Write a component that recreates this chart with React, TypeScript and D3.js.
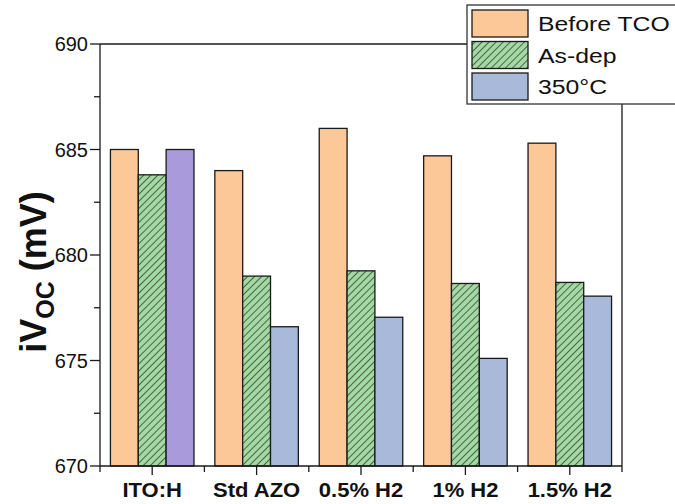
import React from "react";
import * as d3 from "d3";

const categories = ["ITO:H", "Std AZO", "0.5% H2", "1% H2", "1.5% H2"];
const seriesNames = ["Before TCO", "As-dep", "350°C"];
const beforeTCO = [685.0, 684.0, 686.0, 684.7, 685.3];
const asDep = [683.8, 679.0, 679.25, 678.65, 678.7];
const annealed = [685.0, 676.6, 677.05, 675.1, 678.05];
const yTicks = [670, 675, 680, 685, 690];
const yMinorTicks = [672.5, 677.5, 682.5, 687.5];

const W = 675;
const H = 504;
const M = { left: 100, right: 622, top: 44, bottom: 466 };

const fills = ["#fdc897", "#a3d9a3", "#a9b9d9"];
const purple = "#a99bdb";
const ink = "#1a1a1a";

export default function App() {
  const x = d3.scaleBand<string>().domain(categories).range([M.left, M.right]).paddingInner(0.2).paddingOuter(0.1);
  const x1 = d3.scaleBand<number>().domain([0, 1, 2]).range([0, x.bandwidth()]);
  const y = d3.scaleLinear().domain([670, 690]).range([M.bottom, M.top]);
  const series = [beforeTCO, asDep, annealed];
  const band = (M.right - M.left) / categories.length;
  const boundaries = d3.range(categories.length + 1).map((i) => M.left + i * band);

  const fillFor = (s: number, c: number) => {
    if (s === 1) return "url(#hatch)";
    if (s === 2 && c === 0) return purple;
    return fills[s];
  };

  return (
    <svg width={W} height={H} style={{ position: "absolute", left: 0, top: 0, background: "#fff" }} fontFamily="Liberation Sans, Arial, sans-serif">
      <defs>
        <pattern id="hatch" patternUnits="userSpaceOnUse" width="5" height="5" patternTransform="rotate(45)">
          <rect width="5" height="5" fill={fills[1]} />
          <line x1="0" y1="0" x2="0" y2="5" stroke="#111" strokeWidth="1.2" />
        </pattern>
      </defs>
      <rect x={0} y={0} width={W} height={H} fill="#fff" />
      {categories.map((c, ci) =>
        series.map((vals, si) => {
          const bx = (x(c) as number) + (x1(si) as number);
          return (
            <rect
              key={c + si}
              x={bx}
              y={y(vals[ci])}
              width={x1.bandwidth()}
              height={y(670) - y(vals[ci])}
              fill={fillFor(si, ci)}
              stroke={ink}
              strokeWidth={1.3}
            />
          );
        })
      )}
      <line x1={M.left} x2={M.left} y1={M.top} y2={M.bottom} stroke={ink} strokeWidth={1.3} />
      <line x1={M.left} x2={M.right} y1={M.bottom} y2={M.bottom} stroke={ink} strokeWidth={1.3} />
      <line x1={M.left} x2={M.right} y1={M.top} y2={M.top} stroke={ink} strokeWidth={1.3} />
      <line x1={M.right} x2={M.right} y1={M.top} y2={M.bottom} stroke={ink} strokeWidth={1.3} />
      {yTicks.map((t) => (
        <g key={t}>
          <line x1={M.left - 10} x2={M.left} y1={y(t)} y2={y(t)} stroke={ink} strokeWidth={1.3} />
          <text x={M.left - 12} y={y(t) + 7.2} textAnchor="end" fontSize={20} fill="#111">
            {t}
          </text>
        </g>
      ))}
      {yMinorTicks.map((t) => (
        <line key={t} x1={M.left - 6} x2={M.left} y1={y(t)} y2={y(t)} stroke={ink} strokeWidth={1.3} />
      ))}
      {boundaries.map((b, i) => (
        <line key={"b" + i} x1={b} x2={b} y1={M.bottom} y2={M.bottom + 6} stroke={ink} strokeWidth={1.3} />
      ))}
      {categories.map((c) => {
        const cx = (x(c) as number) + x.bandwidth() / 2;
        return (
          <g key={"xt" + c}>
            <line x1={cx} x2={cx} y1={M.bottom} y2={M.bottom + 9} stroke={ink} strokeWidth={1.3} />
            <g transform={`translate(${cx},497) scale(1.1,1)`}>
              <text x={0} y={0} textAnchor="middle" fontSize={20} fontWeight="bold" fill="#111">
                {c}
              </text>
            </g>
          </g>
        );
      })}
      <text transform={`translate(46,272) rotate(-90)`} textAnchor="middle" fontSize={36} fontWeight="bold" fill="#111">
        iV<tspan fontSize={25} dy={8}>OC</tspan>
        <tspan dy={-8}> (mV)</tspan>
      </text>
      <rect x={467} y={5} width={212} height={99} fill="#fff" stroke="#333" strokeWidth={1.3} />
      {seriesNames.map((n, i) => (
        <g key={n}>
          <rect x={472} y={10 + i * 31.5} width={56} height={27} fill={i === 1 ? "url(#hatch)" : fills[i]} stroke={ink} strokeWidth={1.3} />
          <g transform={`translate(538,${31 + i * 31.5}) scale(1.18,1)`}>
            <text x={0} y={0} fontSize={21} fill="#111">
              {n}
            </text>
          </g>
        </g>
      ))}
    </svg>
  );
}
